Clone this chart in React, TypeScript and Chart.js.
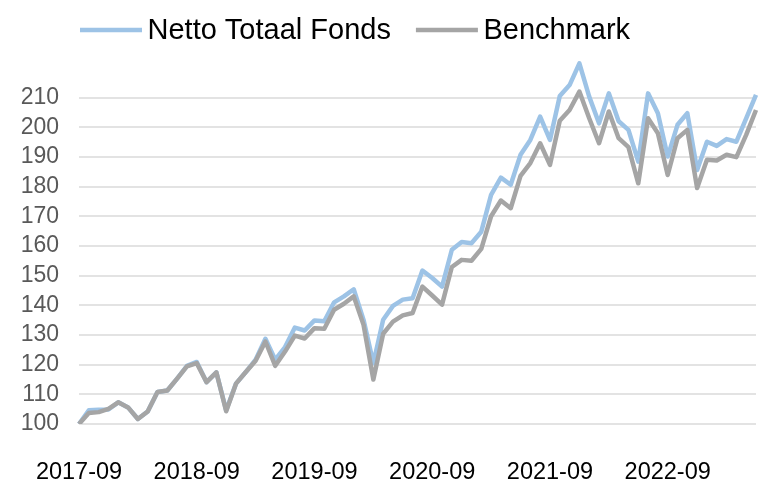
import React, { useEffect, useRef } from "react";
import { Chart, registerables } from "chart.js";

Chart.register(...registerables);

const startYear = 2017;
const startMonth = 9;
const monthCount = 70;

const months: string[] = [];
for (let i = 0; i < monthCount; i++) {
  const m = ((startMonth - 1 + i) % 12) + 1;
  const y = startYear + Math.floor((startMonth - 1 + i) / 12);
  months.push(`${y}-${String(m).padStart(2, "0")}`);
}

const fondsValues = [
  100, 104.6, 104.8, 104.9, 107.3, 105.6, 101.7, 104.2, 110.8, 111.3,
  115.3, 119.6, 120.9, 114.1, 117.4, 104.6, 113.6, 117.5, 121.7, 128.7,
  121.7, 125.9, 132.5, 131.5, 134.9, 134.6, 141.0, 143.0, 145.4, 135.1,
  120.5, 135.1, 139.8, 141.9, 142.4, 151.7, 149.2, 146.3, 158.7, 161.3,
  160.9, 164.8, 177.2, 183.0, 180.6, 190.7, 195.7, 203.6, 195.7, 210.5,
  214.2, 221.5, 210.3, 201.3, 211.4, 202.0, 199.1, 188.4, 211.4, 204.7,
  190.1, 200.8, 204.7, 185.6, 195.1, 193.7, 196.0, 195.1, 203.0, 210.9,
];

const benchmarkValues = [
  100, 103.7, 104.0, 105.1, 107.3, 105.6, 101.7, 104.2, 110.8, 111.3,
  115.3, 119.4, 120.5, 114.1, 117.4, 104.3, 113.6, 117.5, 121.3, 127.8,
  119.6, 124.4, 129.8, 128.8, 132.3, 132.1, 138.5, 140.5, 143.0, 133.4,
  115.0, 130.4, 134.5, 136.6, 137.4, 146.3, 143.3, 140.2, 152.9, 155.3,
  155.0, 159.0, 170.0, 175.3, 172.7, 183.6, 187.9, 194.6, 187.3, 202.2,
  205.8, 212.0, 203.0, 194.6, 205.3, 196.3, 193.3, 181.1, 203.0, 198.0,
  183.9, 196.3, 199.1, 179.5, 189.0, 188.8, 190.7, 189.9, 197.4, 205.8,
];

const seriesNames = ["Netto Totaal Fonds", "Benchmark"];
const seriesColors = ["#9dc3e6", "#a5a5a5"];

const yMin = 100;
const yMax = 225;
const yLabelMax = 210;

const FONT = "'Liberation Sans', Arial, sans-serif";

const legendPlugin = {
  id: "customLegend",
  afterDraw(chart: any) {
    const ctx = chart.ctx;
    ctx.save();
    ctx.font = `29px ${FONT}`;
    ctx.textBaseline = "middle";
    ctx.fillStyle = "#000000";
    const y = 30;
    let x = chart.chartArea.left + 1;
    seriesNames.forEach((name, i) => {
      ctx.strokeStyle = seriesColors[i];
      ctx.lineWidth = 4.5;
      ctx.beginPath();
      ctx.moveTo(x, y);
      ctx.lineTo(x + 62, y);
      ctx.stroke();
      x += 62 + 5.5;
      ctx.fillText(name, x, y + 1);
      x += ctx.measureText(name).width + 25;
    });
    ctx.restore();
  },
};

export default function App() {
  const ref = useRef<HTMLCanvasElement | null>(null);

  useEffect(() => {
    if (!ref.current) return;
    const chart = new Chart(ref.current, {
      type: "line",
      data: {
        labels: months,
        datasets: [
          {
            label: seriesNames[0],
            data: fondsValues,
            borderColor: seriesColors[0],
            backgroundColor: seriesColors[0],
            borderWidth: 4.5,
            pointRadius: 0,
            tension: 0,
            borderJoinStyle: "round",
            order: 1,
          },
          {
            label: seriesNames[1],
            data: benchmarkValues,
            borderColor: seriesColors[1],
            backgroundColor: seriesColors[1],
            borderWidth: 4.5,
            pointRadius: 0,
            tension: 0,
            borderJoinStyle: "round",
            order: 0,
          },
        ],
      },
      options: {
        responsive: false,
        animation: false,
        layout: { padding: { top: 53, right: 8, left: 0, bottom: 0 } },
        plugins: {
          legend: { display: false },
          tooltip: { enabled: false },
        },
        scales: {
          x: {
            grid: { display: false, drawTicks: false },
            border: { display: false },
            ticks: {
              autoSkip: false,
              maxRotation: 0,
              minRotation: 0,
              padding: 6,
              color: "#000000",
              font: { family: FONT, size: 23.5, lineHeight: 3.6 },
              callback: (_v: any, i: number) =>
                months[i].endsWith("-09") ? months[i] : "",
            },
            afterFit: (scale: any) => {
              scale.height = 60;
            },
          },
          y: {
            min: yMin,
            max: yMax,
            grid: {
              drawTicks: false,
              lineWidth: 2,
              color: (c: any) =>
                c.tick && c.tick.value <= yLabelMax ? "#e3e3e3" : "rgba(0,0,0,0)",
            },
            border: { display: false },
            ticks: {
              stepSize: 10,
              padding: 20,
              color: "#595959",
              font: { family: FONT, size: 23 },
              callback: (v: any) => (v <= yLabelMax && v % 10 === 0 ? String(v) : ""),
            },
            afterFit: (scale: any) => {
              scale.width = 79;
            },
          },
        },
      },
      plugins: [legendPlugin],
    });
    return () => chart.destroy();
  }, []);

  return (
    <div style={{ position: "absolute", left: 0, top: 0, width: 764, height: 484, background: "#fff" }}>
      <canvas ref={ref} width={764} height={484} style={{ display: "block" }} />
    </div>
  );
}
